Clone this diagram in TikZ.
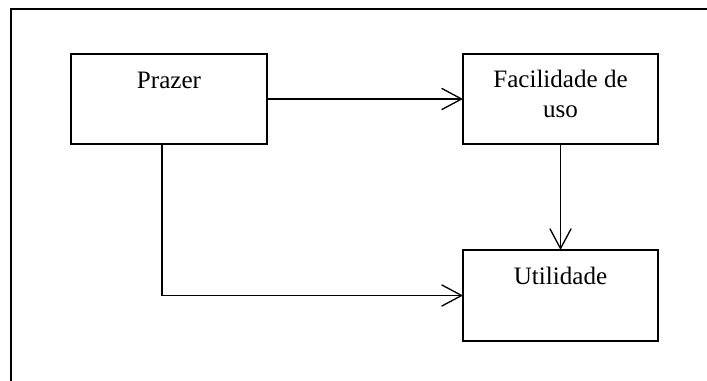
\documentclass[tikz,border=0pt]{standalone}
\usepackage{fontspec}
\setmainfont{Liberation Serif}
\usetikzlibrary{arrows.meta,calc}
\begin{document}
\begin{tikzpicture}[x=0.75pt,y=-0.75pt,
  box/.style={draw,line width=1.25pt,rectangle,inner sep=0pt,outer sep=0pt},
  lbl/.style={inner sep=0pt,anchor=base,font=\fontsize{18.8}{22.5}\selectfont},
  arr/.style={line width=1pt,-{Straight Barb[length=15pt,width=16pt,line width=1pt]}},
  frame/.style={line width=1.5pt}]
\useasboundingbox (0,0) rectangle (707,381);
\coordinate (fl) at (11,381);
\coordinate (ftl) at (11,9);
\coordinate (fr) at (707,9);
\draw[frame] (fl) -- (ftl) -- (fr);
\node[box,minimum width=147pt,minimum height=67.5pt] (Prazer) at (169,99) {};
\node[box,minimum width=146.25pt,minimum height=67.5pt] (Facil) at (560.5,99) {};
\node[box,minimum width=146.25pt,minimum height=68.25pt] (Util) at (560.5,295.5) {};
\node[lbl] (tPrazer) at ($(Prazer.north)+(0,35)$) {Prazer};
\node[lbl] (tFacil1) at ($(Facil.north)+(0,34)$) {Facilidade de};
\node[lbl] (tFacil2) at ($(Facil.north)+(0,64)$) {uso};
\node[lbl] (tUtil) at ($(Util.north)+(0,34)$) {Utilidade};
\coordinate (pd) at (162,0);
\draw[arr] (Prazer.east) -- (Facil.west);
\draw[arr] (Facil.south) -- (Util.north);
\draw[arr] (Prazer.south -| pd) |- (Util.west);
\end{tikzpicture}
\end{document}
